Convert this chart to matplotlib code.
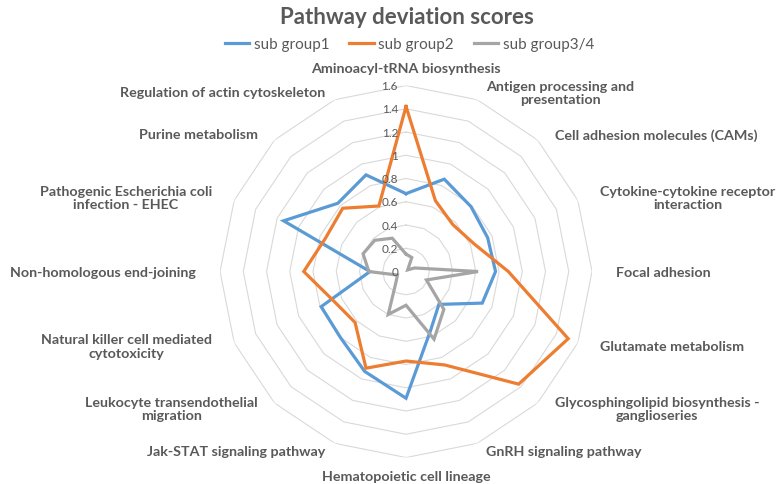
import matplotlib
matplotlib.use('Agg')

import matplotlib.pyplot as plt
import numpy as np

# categories clockwise from the top
categories = [
    "Aminoacyl-tRNA biosynthesis",
    "Antigen processing and\npresentation",
    "Cell adhesion molecules (CAMs)",
    "Cytokine-cytokine receptor\ninteraction",
    "Focal adhesion",
    "Glutamate metabolism",
    "Glycosphingolipid biosynthesis -\nganglioseries",
    "GnRH signaling pathway",
    "Hematopoietic cell lineage",
    "Jak-STAT signaling pathway",
    "Leukocyte transendothelial\nmigration",
    "Natural killer cell mediated\ncytotoxicity",
    "Non-homologous end-joining",
    "Pathogenic Escherichia coli\ninfection - EHEC",
    "Purine metabolism",
    "Regulation of actin cytoskeleton",
]

sub_group1 = [0.67, 0.86, 0.79, 0.76, 0.77, 0.71, 0.40, 0.55,
              1.09, 0.93, 0.80, 0.79, 0.31, 1.14, 0.83, 0.90]
sub_group2 = [1.42, 0.66, 0.57, 0.63, 0.88, 1.51, 1.37, 0.87,
              0.77, 0.90, 0.62, 0.67, 0.88, 0.75, 0.77, 0.61]
sub_group34 = [0.15, 0.13, 0.02, 0.08, 0.62, 0.19, 0.46, 0.63,
               0.29, 0.40, 0.12, 0.08, 0.32, 0.40, 0.38, 0.31]

series_names = ["sub group1", "sub group2", "sub group3/4"]
r_ticks = [0, 0.2, 0.4, 0.6, 0.8, 1.0, 1.2, 1.4, 1.6]

colors = ["#5B9BD5", "#ED7D31", "#A5A5A5"]
text_col = "#595959"
plt.rcParams['font.family'] = ['Lato', 'DejaVu Sans']

fig = plt.figure(figsize=(7.8, 4.85), dpi=100)
ax = fig.add_axes([0.2821, 0.0546, 0.4769, 0.767], projection='polar')
ax.set_theta_zero_location('N')
ax.set_theta_direction(-1)

n = len(categories)
theta = np.arange(n) * 2 * np.pi / n
theta_c = np.append(theta, theta[0])

# polygon grid, no spokes
for lev in r_ticks[1:]:
    ax.plot(theta_c, [lev] * (n + 1), color="#D9D9D9", lw=0.8, zorder=0)

lines = []
for vals, col, name in zip([sub_group1, sub_group2, sub_group34], colors, series_names):
    v = np.append(vals, vals[0])
    ln, = ax.plot(theta_c, v, color=col, lw=2.3, label=name, zorder=3,
                  solid_joinstyle='miter')
    lines.append(ln)

ax.set_ylim(0, 1.6)
ax.grid(False)
ax.set_xticks([])
ax.set_yticks([])
ax.spines['polar'].set_visible(False)

# radial value labels along the top axis
for t in r_ticks:
    ax.annotate("%g" % t, xy=(0, t), xytext=(-8, 0), textcoords='offset pixels',
                ha='right', va='center', fontsize=8.5, color=text_col, zorder=4)

# category labels around the outside
for th, lab in zip(theta, categories):
    s, c = np.sin(th), np.cos(th)
    if abs(s) < 0.1:
        ha = 'center'
        off = (0, 18 * np.sign(c))
    else:
        ha = 'left' if s > 0 else 'right'
        off = (24 * s, 8 * c)
    ax.annotate(lab, xy=(th, 1.6), xytext=off, textcoords='offset pixels',
                ha=ha, va='center', multialignment='center', fontsize=10.3,
                fontweight='bold', color=text_col, linespacing=1.15,
                annotation_clip=False)

fig.suptitle("Pathway deviation scores", x=0.522, y=0.985, fontsize=16,
             fontweight='bold', color=text_col)
fig.legend(handles=lines, loc='upper center', bbox_to_anchor=(0.525, 0.95),
           ncol=3, frameon=False, fontsize=11, handlelength=1.6,
           columnspacing=1.3, handletextpad=0.3, labelcolor=text_col)

fig.savefig("out.png", dpi=100, facecolor='white')
plt.close(fig)
